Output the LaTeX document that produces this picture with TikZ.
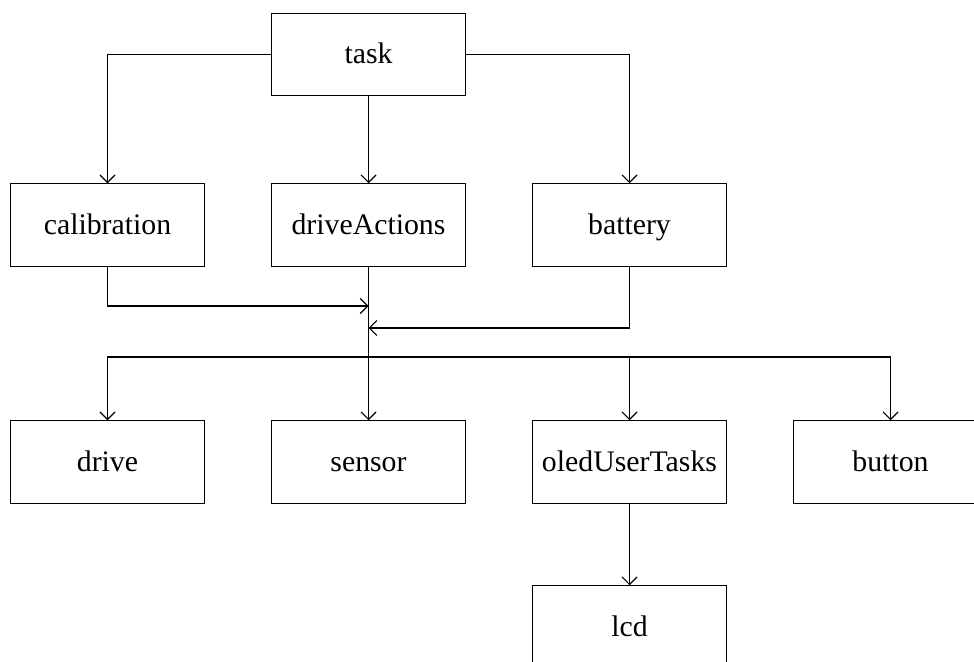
\documentclass[tikz,border=0pt]{standalone}
\usepackage{fontspec}
\setmainfont{Liberation Serif}
\usetikzlibrary{arrows.meta}
\tikzset{
  box/.style={draw, line width=1.1pt, minimum width=193.5pt, minimum height=82.4pt, inner sep=0pt,
    text height=22pt, text depth=4pt, font=\fontsize{29.8}{34}\selectfont},
  link/.style={line width=1.1pt},
  arr/.style={link, -{Straight Barb[length=7.5pt,width=15pt,line width=1.1pt]}},
}
\begin{document}
\begin{tikzpicture}[x=1pt,y=-1pt]
\useasboundingbox (0,0) rectangle (974,661);
\clip (0,0) rectangle (974,661);
\node[box] (task) at (368.5,54.5) {task};
\node[box] (calib) at (107.5,225) {calibration};
\node[box] (dact) at (368.5,225) {driveActions};
\node[box] (batt) at (629.5,225) {battery};
\node[box] (drive) at (107.5,462) {drive};
\node[box] (sensor) at (368.5,462) {sensor};
\node[box] (oled) at (629.5,462) {oledUserTasks};
\node[box] (button) at (890.5,462) {button};
\node[box] (lcd) at (629.5,627) {lcd};
\coordinate (j1) at (368.5,306);
\coordinate (j2) at (368.5,328);
\coordinate (bus) at (368.5,357);
\draw[arr] (task.west) -| (calib.north);
\draw[arr] (task.south) -- (dact.north);
\draw[arr] (task.east) -| (batt.north);
\draw[arr] (calib.south) |- (j1);
\draw[arr] (batt.south) |- (j2);
\draw[arr] (dact.south) -- (sensor.north);
\draw[arr] (bus) -| (drive.north);
\draw[arr] (bus) -| (oled.north);
\draw[arr] (bus) -| (button.north);
\draw[arr] (oled.south) -- (lcd.north);
\end{tikzpicture}
\end{document}
